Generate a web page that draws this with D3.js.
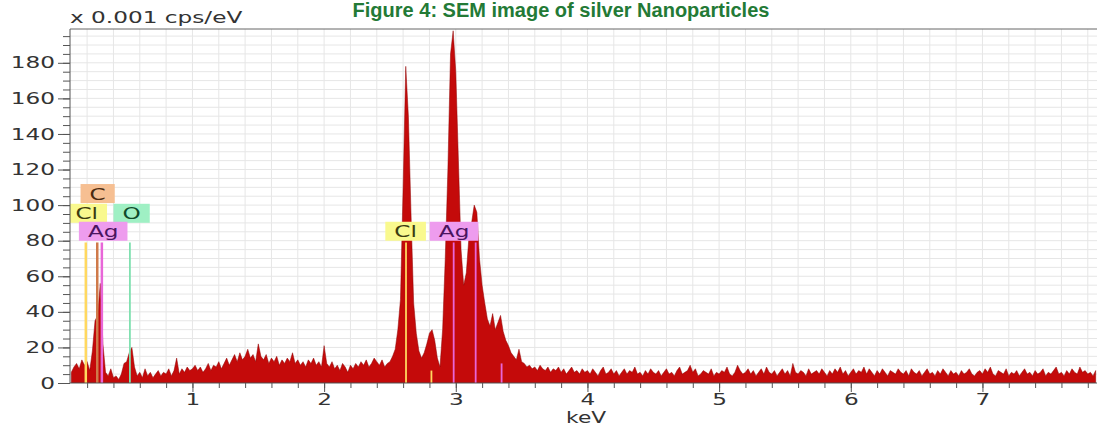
<!DOCTYPE html>
<html>
<head>
<meta charset="utf-8">
<script src="https://cdn.jsdelivr.net/npm/d3@7"></script>
<style>
  body { margin: 0; background: #fff; }
  svg { display: block; }
  text { font-family: "DejaVu Sans", sans-serif; fill: #333; }
</style>
</head>
<body>
<svg id="chart"></svg>
<script>
// spectrum channels, 0.02 keV apart starting at 0.08 keV
const channelStart = 0.08;
const channelStep = 0.02;

// counts (x 0.001 cps/eV)
const countsLow = [ // 0.08 - 0.98 keV
  6, 9, 11, 8, 13, 10, 12, 7, 18, 35, 38, 56, 22, 6, 4, 8, 3, 4, 2, 5,
  11, 12, 17, 20, 9, 4, 6, 3, 8, 4, 6, 3, 5, 7, 4, 6, 5, 8, 4, 7,
  14, 5, 8, 6, 9, 7
];
const countsMid = [ // 1.00 - 1.98 keV
  8, 10, 7, 9, 6, 8, 11, 7, 10, 9, 12, 8, 11, 14, 10, 13, 16, 12, 17, 13,
  15, 19, 14, 16, 12, 22, 15, 13, 16, 11, 14, 12, 15, 10, 13, 11, 14, 12, 17, 11,
  13, 10, 12, 9, 13, 11, 14, 10, 12, 9
];
const countsPeaks = [ // 2.00 - 3.98 keV
  21, 11, 9, 12, 8, 10, 7, 11, 9, 6, 10, 8, 11, 9, 12, 10, 13, 9, 11, 14,
  12, 10, 13, 9, 11, 12, 15, 19, 30, 47, 110, 178, 150, 95, 45, 28, 18, 14, 17, 22,
  28, 30, 24, 14, 9, 30, 70, 120, 185, 198, 175, 125, 75, 55, 62, 82, 90, 100, 96, 70,
  55, 45, 36, 32, 39, 30, 34, 38, 29, 24, 21, 17, 15, 13, 19, 12, 11, 9, 10, 8,
  9, 7, 10, 8, 7, 9, 6, 8, 7, 9, 6, 8, 5, 7, 9, 6, 7, 5, 8, 6
];
const countsHigh = [ // 4.00 - 7.86 keV
  7, 5, 8, 6, 4, 7, 9, 5, 6, 8,  5, 7, 4, 6, 8, 5, 7, 6, 9, 5,
  6, 4, 7, 5, 8, 6, 5, 7, 4, 6,  8, 5, 6, 4, 7, 9, 5, 6, 7, 10,
  6, 8, 4, 5, 7, 6, 5, 8, 4, 6,  5, 7, 6, 9, 5, 4, 6, 10, 7, 5,
  6, 8, 5, 7, 4, 6, 8, 5, 9, 6,  5, 7, 4, 6, 8, 5, 7, 4, 11, 6,
  5, 7, 6, 4, 8, 5, 6, 7, 5, 8,  6, 4, 7, 5, 8, 6, 9, 5, 7, 4,
  6, 8, 5, 7, 6, 9, 5, 8, 6, 4,  7, 5, 8, 6, 4, 7, 6, 5, 8, 6,
  5, 7, 4, 8, 6, 5, 7, 4, 6, 8,  5, 6, 4, 7, 5, 8, 6, 4, 7, 5,
  6, 4, 7, 5, 6, 8, 5, 4, 6, 7,  5, 8, 6, 9, 5, 4, 7, 6, 5, 8,
  4, 6, 5, 7, 4, 6, 8, 5, 6, 4,  7, 5, 6, 8, 4, 6, 5, 7, 9, 5,
  6, 4, 7, 5, 8, 6, 5, 9, 6, 7,  5, 6, 4, 7
];

// element marker lines
const markerKeV    = [0.19, 0.277, 0.312, 0.525, 2.622, 2.815, 2.984, 3.151, 3.348];
const markerHeight = [79, 79, 79, 79, 79, 7, 79, 79, 11];
const markerElem   = ["Cl", "C", "Ag", "O", "Cl", "Cl", "Ag", "Ag", "Ag"];

// element labels (centre keV, level in counts)
const labelText  = ["C", "Cl", "O", "Ag", "Cl", "Ag"];
const labelKeV   = [0.28, 0.197, 0.538, 0.322, 2.619, 2.987];
const labelLevel = [106.5, 95.4, 95.4, 85.3, 85.3, 85.3];

const xMajorTicks = [1, 2, 3, 4, 5, 6, 7];
const yMajorTicks = [0, 20, 40, 60, 80, 100, 120, 140, 160, 180];

const titleText = "Figure 4: SEM image of silver Nanoparticles";
const yUnitText = "x 0.001 cps/eV";
const xTitleText = "keV";

const boxFill  = { C: "#f6bf92", Cl: "#f9f98e", O: "#9ff0c4", Ag: "#ee9cee" };
const boxInk   = { C: "#4a2a10", Cl: "#3c3c10", O: "#0f4a2a", Ag: "#4a1460" };
const lineFill = { C: "#cf7a4a", Cl: "#ffd860", O: "#7fe0b0", Ag: "#e866d8" };

const width = 1099, height = 427;
const margin = { top: 29, right: 2, bottom: 44, left: 70 };
const sx = 1.45; // the picture's text is stretched sideways

const counts = countsLow.concat(countsMid, countsPeaks, countsHigh);
const spectrum = counts.map((c, i) => ({ e: channelStart + i * channelStep, c }));

const x = d3.scaleLinear()
  .domain([0.07, 7.87])
  .range([margin.left, width - margin.right]);

const y = d3.scaleLinear()
  .domain([0, 199])
  .range([height - margin.bottom, margin.top]);

const svg = d3.select("#chart").attr("width", width).attr("height", height);

svg.append("defs").append("clipPath").attr("id", "plot")
  .append("rect")
  .attr("x", margin.left).attr("y", margin.top)
  .attr("width", width - margin.left - margin.right)
  .attr("height", height - margin.top - margin.bottom);

function stretched(parent, px, py, str, anchor) {
  return parent.append("text")
    .attr("transform", `translate(${px},${py}) scale(${sx},1)`)
    .attr("text-anchor", anchor)
    .text(str);
}

// grid
const xGrid = d3.range(0.2, 7.81, 0.2);
const yGrid = d3.range(5, 199, 5);
const grid = svg.append("g").attr("stroke", "#e6e6e6").attr("stroke-width", 1);
grid.selectAll(".gx").data(xGrid).enter().append("line")
  .attr("x1", d => x(d)).attr("x2", d => x(d))
  .attr("y1", y(0)).attr("y2", margin.top);
grid.selectAll(".gy").data(yGrid).enter().append("line")
  .attr("x1", margin.left).attr("x2", width - margin.right)
  .attr("y1", d => y(d)).attr("y2", d => y(d));

// spectrum
const area = d3.area()
  .x(d => x(d.e))
  .y0(y(0))
  .y1(d => y(d.c));

svg.append("path")
  .datum(spectrum)
  .attr("clip-path", "url(#plot)")
  .attr("d", area)
  .attr("fill", "#c40a0a")
  .attr("stroke", "#8e0303")
  .attr("stroke-width", 0.5);

// marker lines
svg.selectAll(".marker")
  .data(markerKeV)
  .enter()
  .append("line")
  .attr("class", "marker")
  .attr("x1", d => x(d)).attr("x2", d => x(d))
  .attr("y1", y(0))
  .attr("y2", (d, i) => y(markerHeight[i]))
  .attr("stroke", (d, i) => lineFill[markerElem[i]])
  .attr("stroke-width", (d, i) => (markerKeV[i] < 1 && markerElem[i] !== "O" ? 2.5 : 1.8));

// labels
const labels = svg.append("g").attr("clip-path", "url(#plot)");
labelText.forEach((t, i) => {
  const cx = x(labelKeV[i]);
  const cy = y(labelLevel[i]);
  const g = labels.append("g");
  const rect = g.append("rect");
  const txt = stretched(g, cx, cy + 6, t, "middle")
    .style("font-size", "16px")
    .style("fill", boxInk[t]);
  const w = txt.node().getComputedTextLength() * sx + 18;
  rect.attr("x", cx - w / 2).attr("y", cy - 9.5)
    .attr("width", w).attr("height", 19)
    .attr("fill", boxFill[t]);
});

// axes
const axisColor = "#555";
const xAxis = svg.append("g")
  .attr("transform", `translate(0,${y(0)})`)
  .call(d3.axisBottom(x).tickValues(xGrid).tickSize(5).tickFormat(""));
const xAxisMajor = svg.append("g")
  .attr("transform", `translate(0,${y(0)})`)
  .call(d3.axisBottom(x).tickValues(xMajorTicks).tickSize(9).tickSizeOuter(0).tickFormat(d3.format("d")));
xAxisMajor.select(".domain").remove();
xAxisMajor.selectAll(".tick text")
  .attr("y", 11)
  .attr("transform", `scale(${sx},1)`)
  .style("font-size", "16px")
  .style("font-family", "DejaVu Sans, sans-serif")
  .attr("fill", "#333");

const yAxis = svg.append("g")
  .attr("transform", `translate(${margin.left},0)`)
  .call(d3.axisLeft(y).tickValues(yGrid.concat([0])).tickSize(7).tickSizeOuter(0).tickFormat(""));
const yAxisMajor = svg.append("g")
  .attr("transform", `translate(${margin.left},0)`)
  .call(d3.axisLeft(y).tickValues(yMajorTicks).tickSize(12).tickSizeOuter(0));
yAxisMajor.select(".domain").remove();
yAxisMajor.selectAll(".tick text")
  .attr("x", -15 / sx)
  .attr("transform", `scale(${sx},1)`)
  .style("font-size", "16px")
  .style("font-family", "DejaVu Sans, sans-serif")
  .attr("fill", "#333");

svg.selectAll(".domain, .tick line").attr("stroke", axisColor);
xAxis.select(".domain").attr("d", `M${margin.left},0H${width - margin.right}`);
yAxis.select(".domain").attr("d", `M0,${y(0)}V${margin.top}`);

// top border
svg.append("line")
  .attr("x1", margin.left).attr("x2", width - margin.right)
  .attr("y1", margin.top).attr("y2", margin.top)
  .attr("stroke", "#666");

// texts
stretched(svg, margin.left, 23, yUnitText, "start").style("font-size", "16px");
stretched(svg, x(3.99), 423.2, xTitleText, "middle").style("font-size", "15px");

svg.append("text")
  .attr("x", 561).attr("y", 17)
  .attr("text-anchor", "middle")
  .style("font-family", "Liberation Sans, sans-serif")
  .style("font-weight", "bold")
  .style("font-size", "20px")
  .style("fill", "#237a36")
  .text(titleText);
</script>
</body>
</html>
